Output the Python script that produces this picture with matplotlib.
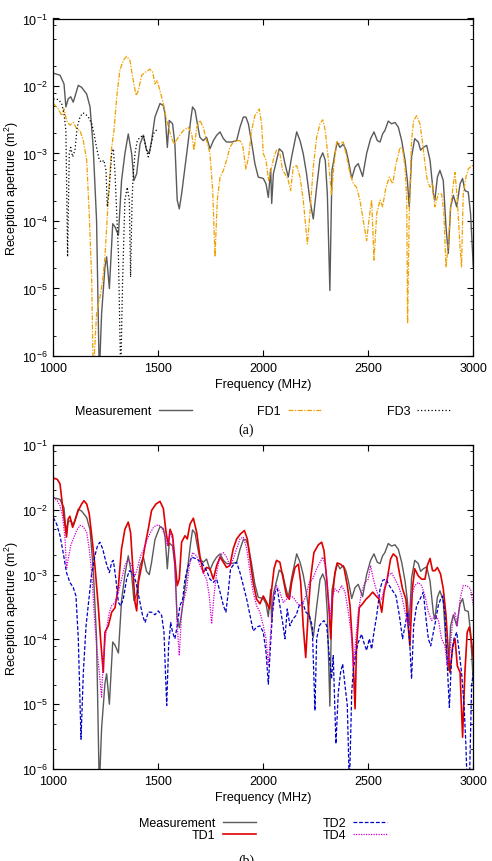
import matplotlib
matplotlib.use("Agg")
import matplotlib.pyplot as plt
from matplotlib.ticker import LogLocator, NullFormatter, FixedLocator
import numpy as np

plt.rcParams["font.family"] = ["Liberation Sans", "DejaVu Sans"]
plt.rcParams["mathtext.default"] = "regular"

# ---- data (frequency in MHz, log10 of reception aperture in m^2) ----
meas_freq = [1000, 1032, 1051, 1060, 1071, 1083, 1095, 1119, 1135, 1159, 1175, 1190, 1206, 1219,
             1230, 1246, 1254, 1267, 1283, 1294, 1310, 1325, 1341, 1357, 1373, 1384, 1397, 1413,
             1429, 1444, 1457, 1468, 1484, 1508, 1524, 1532, 1543, 1552, 1568, 1579, 1590, 1600,
             1611, 1627, 1643, 1654, 1663, 1675, 1686, 1698, 1714, 1730, 1746, 1762, 1778, 1794,
             1810, 1825, 1849, 1873, 1889, 1905, 1917, 1929, 1944, 1960, 1976, 2000, 2013, 2024,
             2035, 2040, 2048, 2063, 2076, 2092, 2103, 2119, 2135, 2159, 2175, 2190, 2206, 2222,
             2238, 2254, 2270, 2283, 2295, 2305, 2317, 2327, 2341, 2352, 2365, 2381, 2394, 2405,
             2421, 2437, 2452, 2473, 2492, 2511, 2527, 2543, 2556, 2568, 2579, 2595, 2611, 2627,
             2643, 2659, 2675, 2686, 2695, 2706, 2721, 2738, 2749, 2762, 2778, 2794, 2810, 2817,
             2829, 2841, 2857, 2870, 2881, 2892, 2905, 2921, 2937, 2949, 2960, 2976, 2987, 3000]
meas_log10 = [-1.81, -1.84, -1.97, -2.31, -2.19, -2.16, -2.24, -1.99, -2.02, -2.12, -2.31, -2.91,
              -3.99, -6.3, -5.37, -4.68, -4.53, -5.00, -4.04, -4.09, -4.21, -3.40, -3.00, -2.71,
              -3.00, -3.40, -3.30, -2.86, -2.73, -2.95, -3.00, -2.81, -2.46, -2.26, -2.29, -2.41,
              -2.91, -2.51, -2.56, -2.86, -3.69, -3.82, -3.60, -3.20, -2.81, -2.51, -2.31, -2.36,
              -2.56, -2.76, -2.81, -2.76, -2.93, -2.81, -2.73, -2.68, -2.78, -2.83, -2.83, -2.81,
              -2.61, -2.46, -2.46, -2.56, -2.83, -3.15, -3.35, -3.37, -3.45, -3.65, -3.23, -3.74,
              -3.30, -3.10, -2.93, -2.98, -3.15, -3.35, -3.05, -2.68, -2.81, -3.00, -3.30, -3.69,
              -3.97, -3.50, -3.08, -2.99, -3.10, -3.60, -5.03, -3.25, -3.00, -2.83, -2.91, -2.86,
              -2.95, -3.10, -3.37, -3.20, -3.15, -3.34, -3.00, -2.78, -2.68, -2.81, -2.83, -2.71,
              -2.66, -2.52, -2.56, -2.54, -2.61, -2.81, -3.10, -3.40, -3.79, -3.05, -2.78, -2.83,
              -2.95, -2.91, -2.88, -3.10, -3.60, -3.69, -3.35, -3.25, -3.40, -4.09, -4.48, -3.79,
              -3.62, -3.79, -3.45, -3.37, -3.55, -3.57, -3.89, -4.68]

fd1_freq = [1000, 1024, 1040, 1051, 1063, 1079, 1095, 1111, 1127, 1143, 1159, 1171, 1183, 1190,
            1206, 1222, 1235, 1246, 1254, 1267, 1278, 1289, 1302, 1317, 1333, 1349, 1365, 1378,
            1394, 1405, 1421, 1441, 1460, 1473, 1484, 1495, 1508, 1524, 1540, 1559, 1575, 1595,
            1619, 1643, 1659, 1670, 1683, 1698, 1714, 1730, 1746, 1759, 1770, 1781, 1794, 1810,
            1825, 1841, 1857, 1873, 1889, 1902, 1917, 1930, 1944, 1960, 1981, 1992, 2000, 2013,
            2025, 2040, 2051, 2063, 2079, 2092, 2103, 2119, 2130, 2143, 2159, 2175, 2190, 2210,
            2222, 2238, 2254, 2270, 2283, 2295, 2310, 2325, 2337, 2349, 2360, 2381, 2397, 2413,
            2429, 2444, 2460, 2476, 2492, 2505, 2516, 2527, 2540, 2556, 2568, 2584, 2600, 2616,
            2632, 2651, 2663, 2675, 2683, 2687, 2695, 2706, 2716, 2730, 2746, 2759, 2770, 2781,
            2794, 2806, 2817, 2833, 2849, 2860, 2870, 2881, 2892, 2905, 2913, 2924, 2937, 2944,
            2952, 2965, 2976, 2992, 3000]
fd1_log10 = [-2.26, -2.34, -2.44, -2.34, -2.51, -2.58, -2.54, -2.63, -2.66, -2.81, -3.10, -3.89,
             -4.88, -6.3, -5.37, -5.13, -4.88, -4.53, -4.09, -3.40, -2.91, -2.66, -2.16, -1.77,
             -1.62, -1.56, -1.62, -1.87, -2.14, -2.07, -1.84, -1.79, -1.75, -1.79, -1.97, -1.92,
             -2.07, -2.26, -2.51, -2.73, -2.86, -2.76, -2.66, -2.61, -2.71, -2.95, -2.61, -2.51,
             -2.61, -2.81, -3.00, -3.55, -4.53, -3.69, -3.35, -3.25, -3.10, -2.91, -2.83, -2.81,
             -2.81, -2.88, -3.23, -3.05, -2.66, -2.44, -2.34, -2.56, -3.00, -3.10, -3.40, -3.20,
             -3.05, -2.95, -3.00, -3.25, -3.30, -3.40, -3.55, -3.20, -3.18, -3.35, -3.69, -4.34,
             -3.89, -3.20, -2.76, -2.56, -2.50, -2.66, -3.10, -3.62, -3.15, -2.83, -2.86, -2.83,
             -3.05, -3.30, -3.45, -3.50, -3.69, -3.99, -4.29, -3.94, -3.69, -4.58, -3.89, -3.69,
             -3.79, -3.50, -3.35, -3.45, -3.15, -2.91, -2.93, -3.20, -3.69, -5.52, -3.89, -2.81,
             -2.51, -2.44, -2.56, -2.86, -3.15, -3.40, -3.50, -3.45, -3.79, -3.60, -3.60, -3.89,
             -4.68, -4.34, -3.79, -3.45, -3.28, -3.69, -4.39, -4.68, -3.60, -3.35, -3.23, -3.18,
             -3.18]

fd3_freq = [1000, 1024, 1040, 1051, 1060, 1068, 1076, 1083, 1092, 1103, 1114, 1127, 1140, 1151,
            1167, 1183, 1194, 1206, 1219, 1230, 1241, 1251, 1257, 1267, 1278, 1286, 1294, 1302,
            1310, 1321, 1330, 1341, 1352, 1362, 1368, 1375, 1381, 1389, 1400, 1413, 1429, 1441,
            1452, 1463, 1476, 1489, 1500]
fd3_log10 = [-2.19, -2.20, -2.26, -2.41, -2.66, -4.53, -3.00, -2.91, -3.05, -2.95, -2.61, -2.46,
             -2.40, -2.41, -2.46, -2.56, -2.71, -2.91, -3.10, -3.13, -3.10, -3.25, -3.79, -3.50,
             -3.00, -2.93, -3.30, -3.89, -4.48, -6.3, -4.88, -3.69, -3.50, -3.69, -4.83, -3.69,
             -3.30, -3.00, -2.81, -2.76, -2.73, -2.91, -3.05, -2.91, -2.71, -2.66, -2.63]

td1_freq = [1000, 1019, 1032, 1044, 1056, 1063, 1071, 1079, 1092, 1103, 1119, 1135, 1146, 1159,
            1171, 1183, 1198, 1214, 1225, 1238, 1246, 1262, 1278, 1294, 1310, 1325, 1341, 1357,
            1368, 1378, 1389, 1397, 1405, 1421, 1437, 1452, 1468, 1489, 1508, 1524, 1537, 1548,
            1556, 1568, 1579, 1590, 1600, 1611, 1627, 1638, 1651, 1667, 1683, 1698, 1714, 1730,
            1746, 1762, 1778, 1794, 1810, 1825, 1841, 1857, 1873, 1892, 1910, 1924, 1937, 1952,
            1968, 1984, 2000, 2016, 2029, 2040, 2051, 2063, 2079, 2095, 2111, 2124, 2135, 2151,
            2167, 2178, 2190, 2202, 2214, 2225, 2241, 2262, 2278, 2289, 2302, 2314, 2321, 2330,
            2341, 2352, 2368, 2384, 2400, 2413, 2425, 2437, 2444, 2457, 2473, 2489, 2505, 2521,
            2537, 2552, 2564, 2575, 2590, 2606, 2619, 2635, 2648, 2663, 2679, 2690, 2698, 2710,
            2721, 2738, 2754, 2770, 2781, 2794, 2806, 2817, 2829, 2844, 2857, 2870, 2881, 2889,
            2902, 2913, 2924, 2937, 2949, 2960, 2971, 2981, 2992, 3000]
td1_log10 = [-1.51, -1.53, -1.60, -1.94, -2.24, -2.42, -2.14, -2.10, -2.27, -2.17, -2.01, -1.91,
             -1.86, -1.91, -2.06, -2.40, -2.86, -3.48, -3.99, -4.51, -3.89, -3.79, -3.58, -3.51,
             -3.17, -2.60, -2.30, -2.19, -2.35, -2.86, -3.43, -3.56, -3.12, -2.86, -2.55, -2.30,
             -2.01, -1.91, -1.87, -1.98, -2.35, -2.55, -2.30, -2.40, -2.76, -3.17, -3.07, -2.50,
             -2.40, -2.45, -2.22, -2.13, -2.35, -2.71, -2.97, -2.89, -2.91, -3.07, -2.86, -2.73,
             -2.81, -2.89, -2.86, -2.60, -2.45, -2.37, -2.32, -2.45, -2.76, -3.12, -3.38, -3.45,
             -3.33, -3.43, -3.53, -3.22, -2.91, -2.78, -2.81, -3.07, -3.33, -3.38, -3.12, -2.89,
             -2.84, -3.12, -3.79, -4.28, -3.58, -3.07, -2.66, -2.54, -2.50, -2.63, -3.07, -3.58,
             -3.99, -3.33, -2.97, -2.82, -2.84, -2.89, -3.17, -3.48, -4.10, -5.07, -4.10, -3.51,
             -3.45, -3.38, -3.33, -3.27, -3.33, -3.38, -3.58, -3.27, -3.07, -2.76, -2.68, -2.73,
             -2.97, -3.22, -3.38, -3.79, -4.10, -3.22, -2.91, -3.02, -3.07, -3.07, -2.86, -2.75,
             -2.94, -2.94, -2.89, -2.99, -3.22, -3.63, -4.20, -4.51, -4.10, -3.99, -4.41, -4.51,
             -5.51, -4.51, -3.89, -3.81, -4.05, -4.30]

td2_freq = [1000, 1016, 1032, 1048, 1063, 1079, 1095, 1108, 1119, 1132, 1143, 1156, 1171, 1183,
            1198, 1211, 1222, 1235, 1251, 1267, 1278, 1286, 1298, 1310, 1321, 1333, 1349, 1362,
            1378, 1394, 1410, 1425, 1437, 1452, 1468, 1484, 1500, 1516, 1527, 1540, 1549, 1559,
            1568, 1579, 1590, 1603, 1616, 1627, 1643, 1659, 1683, 1706, 1730, 1746, 1762, 1778,
            1794, 1810, 1822, 1833, 1844, 1860, 1873, 1889, 1905, 1921, 1937, 1952, 1968, 1984,
            2000, 2013, 2024, 2035, 2044, 2056, 2067, 2079, 2092, 2103, 2114, 2127, 2140, 2156,
            2171, 2187, 2203, 2219, 2233, 2246, 2254, 2267, 2278, 2289, 2302, 2314, 2325, 2333,
            2346, 2357, 2368, 2378, 2389, 2400, 2410, 2421, 2429, 2441, 2452, 2468, 2479, 2492,
            2505, 2516, 2527, 2540, 2556, 2568, 2584, 2600, 2616, 2632, 2648, 2663, 2675, 2686,
            2698, 2706, 2716, 2730, 2746, 2762, 2775, 2786, 2797, 2810, 2822, 2833, 2844, 2854,
            2865, 2873, 2886, 2897, 2908, 2921, 2933, 2944, 2956, 2965, 2971, 2981, 2992, 3000]
td2_log10 = [-2.12, -2.22, -2.40, -2.68, -2.97, -3.12, -3.20, -3.33, -3.99, -5.54, -4.51, -3.79,
             -3.33, -2.97, -2.71, -2.55, -2.50, -2.60, -2.81, -2.97, -2.81, -2.78, -3.07, -3.43,
             -3.48, -3.38, -3.07, -2.94, -2.97, -3.12, -3.38, -3.63, -3.74, -3.58, -3.58, -3.62,
             -3.56, -3.63, -3.89, -5.02, -4.10, -3.74, -3.89, -3.99, -3.79, -3.48, -3.38, -3.07,
             -2.86, -2.73, -2.76, -2.81, -2.94, -3.07, -3.12, -3.07, -3.27, -3.48, -3.58, -3.27,
             -2.91, -2.84, -2.81, -2.97, -3.17, -3.38, -3.63, -3.87, -3.81, -3.79, -3.89, -4.20,
             -4.69, -4.05, -3.58, -3.27, -3.22, -3.48, -3.74, -3.99, -3.53, -3.79, -3.69, -3.63,
             -3.48, -3.43, -3.58, -3.63, -3.79, -5.10, -3.99, -3.79, -3.74, -3.71, -3.79, -4.25,
             -4.61, -4.25, -5.61, -4.82, -4.51, -4.38, -4.71, -5.02, -6.3, -4.82, -4.46, -4.20,
             -4.05, -3.92, -4.05, -4.17, -3.99, -4.15, -3.89, -3.63, -3.22, -3.09, -3.07, -3.17,
             -3.25, -3.33, -3.63, -3.99, -3.79, -3.58, -4.10, -4.61, -3.79, -3.48, -3.38, -3.27,
             -3.69, -3.99, -4.10, -3.89, -3.69, -3.48, -3.38, -3.33, -3.63, -4.20, -5.05, -4.25,
             -3.99, -3.89, -4.20, -4.51, -5.02, -5.64, -6.3, -6.3, -4.71, -4.51]

td4_freq = [1000, 1019, 1032, 1044, 1056, 1063, 1071, 1083, 1095, 1111, 1127, 1143, 1159, 1171,
            1183, 1194, 1206, 1219, 1230, 1238, 1251, 1267, 1278, 1294, 1310, 1325, 1341, 1357,
            1373, 1389, 1400, 1416, 1432, 1448, 1463, 1479, 1500, 1516, 1532, 1543, 1556, 1568,
            1579, 1590, 1600, 1611, 1622, 1635, 1648, 1663, 1683, 1698, 1714, 1730, 1743, 1754,
            1765, 1778, 1794, 1810, 1825, 1841, 1857, 1873, 1889, 1905, 1921, 1937, 1952, 1968,
            1984, 2000, 2013, 2024, 2035, 2048, 2063, 2079, 2095, 2111, 2127, 2143, 2159, 2175,
            2190, 2203, 2219, 2235, 2254, 2270, 2283, 2295, 2308, 2317, 2327, 2341, 2357, 2373,
            2389, 2405, 2418, 2429, 2441, 2452, 2468, 2484, 2500, 2511, 2521, 2532, 2548, 2564,
            2579, 2595, 2611, 2627, 2643, 2659, 2675, 2690, 2706, 2721, 2738, 2754, 2770, 2786,
            2802, 2817, 2833, 2849, 2865, 2876, 2889, 2902, 2913, 2924, 2937, 2952, 2968, 2987,
            3000]
td4_log10 = [-1.81, -1.86, -1.94, -2.09, -2.45, -2.91, -2.76, -2.55, -2.45, -2.32, -2.24, -2.26,
             -2.35, -2.60, -2.97, -3.58, -4.10, -4.51, -4.89, -4.30, -3.89, -3.58, -3.48, -3.43,
             -3.27, -3.07, -2.86, -2.76, -2.86, -3.02, -2.91, -2.71, -2.60, -2.45, -2.35, -2.26,
             -2.23, -2.27, -2.40, -2.55, -2.35, -2.45, -2.86, -3.79, -4.25, -3.58, -3.38, -3.22,
             -2.86, -2.66, -2.71, -2.86, -2.97, -3.07, -3.33, -3.76, -3.33, -2.97, -2.71, -2.66,
             -2.73, -2.86, -2.76, -2.60, -2.45, -2.42, -2.60, -2.97, -3.27, -3.48, -3.58, -3.79,
             -3.99, -4.41, -3.89, -3.33, -3.17, -3.27, -3.43, -3.38, -3.33, -3.35, -3.43, -3.48,
             -3.43, -3.33, -3.12, -3.07, -2.91, -2.81, -2.73, -2.86, -3.27, -3.69, -3.38, -3.22,
             -3.27, -3.17, -3.27, -3.58, -3.89, -4.41, -3.99, -3.58, -3.27, -3.12, -3.07, -2.86,
             -3.02, -3.17, -3.33, -3.38, -3.17, -3.02, -2.97, -3.07, -3.17, -3.33, -3.58, -3.79,
             -3.33, -3.17, -3.12, -3.17, -3.33, -3.58, -3.71, -3.63, -3.69, -3.99, -4.10, -4.41,
             -4.20, -3.69, -3.58, -3.79, -3.38, -3.17, -3.17, -3.22, -3.48]

x_ticks = [1000, 1500, 2000, 2500, 3000]

FS = 9
W, H = 492, 862


def style_axes(ax):
    ax.set_xlim(1000, 3000)
    ax.set_yscale("log")
    ax.set_ylim(1e-6, 1e-1)
    ax.xaxis.set_major_locator(FixedLocator(x_ticks))
    ax.yaxis.set_major_locator(LogLocator(base=10, numticks=10))
    ax.yaxis.set_minor_locator(LogLocator(base=10, subs=(2.0, 5.0, 8.0), numticks=10))
    ax.yaxis.set_minor_formatter(NullFormatter())
    ax.tick_params(which="both", direction="in", top=True, right=True, labelsize=FS)
    ax.tick_params(which="major", length=4, width=0.8)
    ax.tick_params(which="minor", length=2.5, width=0.6)
    ax.tick_params(axis="x", pad=4.5)
    ax.tick_params(axis="y", pad=4)
    for s in ax.spines.values():
        s.set_linewidth(0.9)
    ax.set_xlabel("Frequency (MHz)", fontsize=FS, labelpad=3)
    ax.set_ylabel("Reception aperture (m$^2$)", fontsize=FS, labelpad=1)


def axrect(left, top, right, bottom):
    return [left / W, 1 - bottom / H, (right - left) / W, (bottom - top) / H]


fig = plt.figure(figsize=(W / 100, H / 100), dpi=100)

# panel (a)
ax1 = fig.add_axes(axrect(53.3, 19.5, 473.3, 357))
l_meas, = ax1.plot(meas_freq, 10 ** np.array(meas_log10), color="#5a5a5a", lw=1.0,
                   label="Measurement")
l_fd1, = ax1.plot(fd1_freq, 10 ** np.array(fd1_log10), color="#f0a000", lw=0.9,
                  dashes=(4, 1.2, 1, 1.2), label="FD1")
l_fd3, = ax1.plot(fd3_freq, 10 ** np.array(fd3_log10), color="black", lw=0.9,
                  dashes=(1, 1.8), label="FD3")
style_axes(ax1)
fig.legend(handles=[l_meas, l_fd1, l_fd3], loc="center",
           bbox_to_anchor=(263 / W, 1 - 412 / H), ncol=3, frameon=False,
           markerfirst=False, fontsize=FS, handlelength=2.7, handletextpad=0.55,
           columnspacing=5.2, borderpad=0)
fig.text(246 / W, 1 - 430 / H, "(a)", ha="center", va="center", fontsize=10,
         family="Liberation Serif")

# panel (b)
ax2 = fig.add_axes(axrect(53.3, 446, 473.3, 770))
l_meas2, = ax2.plot(meas_freq, 10 ** np.array(meas_log10), color="#5a5a5a", lw=1.0,
                    label="Measurement")
l_td1, = ax2.plot(td1_freq, 10 ** np.array(td1_log10), color="#e00000", lw=1.2,
                  label="TD1")
l_td2, = ax2.plot(td2_freq, 10 ** np.array(td2_log10), color="#0000c8", lw=0.9,
                  dashes=(3, 1.5), label="TD2")
l_td4, = ax2.plot(td4_freq, 10 ** np.array(td4_log10), color="#d000d0", lw=0.9,
                  dashes=(1, 1), label="TD4")
style_axes(ax2)
fig.legend(handles=[l_meas2, l_td1, l_td2, l_td4], loc="center",
           bbox_to_anchor=(263 / W, 1 - 830 / H), ncol=2, frameon=False,
           markerfirst=False, fontsize=FS, handlelength=2.7, handletextpad=0.55,
           columnspacing=5.3, labelspacing=0.0, borderpad=0)
fig.text(246 / W, 1 - 861 / H, "(b)", ha="center", va="center", fontsize=10,
         family="Liberation Serif")

fig.savefig("out.png", dpi=100)
